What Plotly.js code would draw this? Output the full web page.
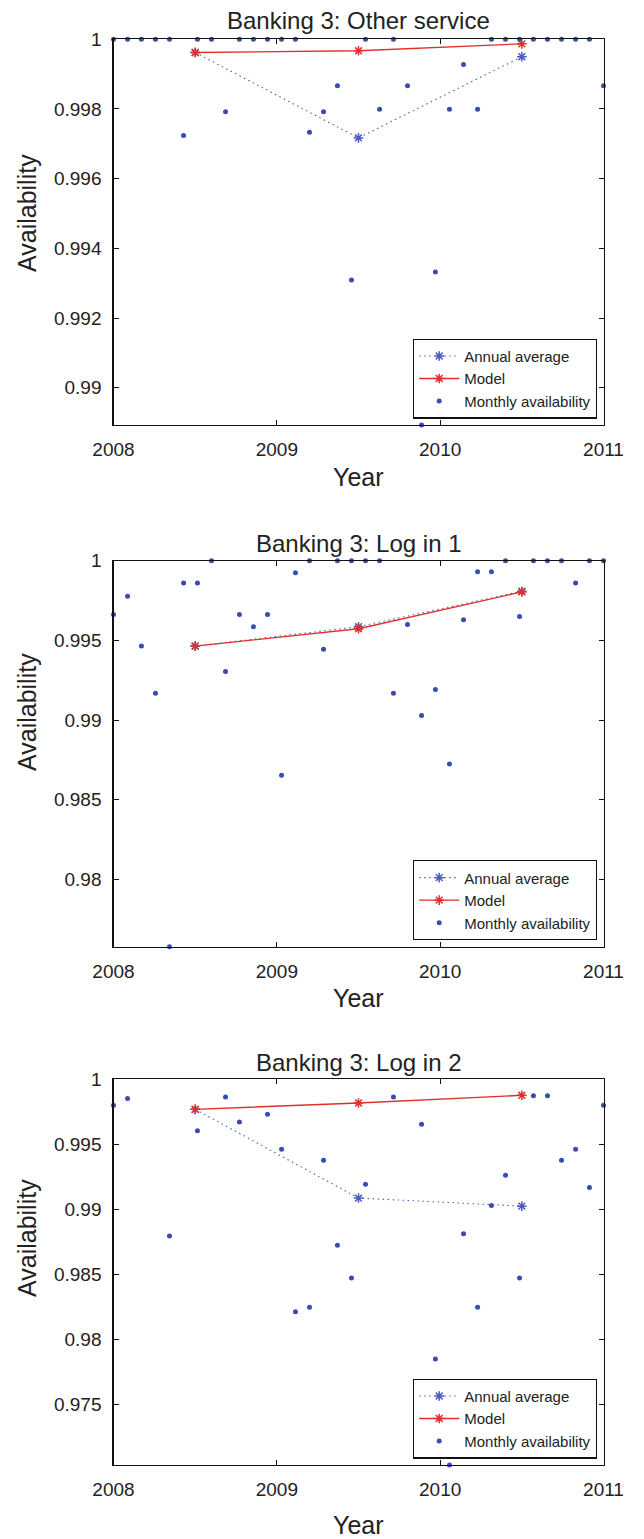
<!DOCTYPE html>
<html><head><meta charset="utf-8">
<script src="https://cdn.plot.ly/plotly-3.0.1.min.js"></script>
<style>html,body{margin:0;padding:0;background:#fff}#chart{width:644px;height:1539px}</style>
</head><body><div id="chart"></div>
<script>
// ---- data ----
const monthYears = [2008.000,2008.086,2008.171,2008.257,2008.343,2008.429,2008.514,2008.600,2008.686,2008.771,2008.857,2008.943,
  2009.029,2009.114,2009.200,2009.286,2009.371,2009.457,2009.543,2009.629,2009.714,2009.800,2009.886,2009.971,
  2010.057,2010.143,2010.229,2010.314,2010.400,2010.486,2010.571,2010.657,2010.743,2010.829,2010.914,2011.000];
const annualYears = [2008.5, 2009.5, 2010.5];

const panelTitles = ["Banking 3: Other service", "Banking 3: Log in 1", "Banking 3: Log in 2"];
const seriesNames = ["Annual average", "Model", "Monthly availability"];
const xTickVals = [2008, 2009, 2010, 2011];
const xTickText = ["2008", "2009", "2010", "2011"];

// Panel 1: Other service
const monthly1 = [1,1,1,1,1,0.99724,1,1,0.99792,1,1,1,
  1,1,0.99733,0.99792,0.99867,0.99309,1,0.99799,1,0.99867,0.98893,0.99332,
  0.99799,0.99928,0.99799,1,1,1,1,1,1,1,1,0.99867];
const annual1 = [0.99962, 0.99717, 0.99950];
const model1 = [0.99962, 0.99967, 0.99987];
const yTicks1 = [0.99, 0.992, 0.994, 0.996, 0.998, 1];
const yTickText1 = ["0.99", "0.992", "0.994", "0.996", "0.998", "1"];
const yRange1 = [0.98893, 1];

// Panel 2: Log in 1
const monthly2 = [0.99663,0.99777,0.99464,0.99169,0.97578,0.99860,0.99860,1,0.99304,0.99663,0.99586,0.99663,
  0.98654,0.99925,1,0.99444,1,1,1,1,0.99169,0.99600,0.99029,0.99192,
  0.98725,0.99629,0.99931,0.99931,1,0.99650,1,1,1,0.99860,1,1];
const annual2 = [0.99464, 0.99586, 0.99808];
const model2 = [0.99464, 0.99573, 0.99804];
const yTicks2 = [0.98, 0.985, 0.99, 0.995, 1];
const yTickText2 = ["0.98", "0.985", "0.99", "0.995", "1"];
const yRange2 = [0.97578, 1];

// Panel 3: Log in 2 (months with no visible mark are left empty)
const monthly3 = [0.99800,0.99852,null,null,0.98796,null,0.99604,null,0.99863,0.99671,null,0.99732,
  0.99463,0.98214,0.98248,0.99378,0.98725,0.98473,0.99194,null,0.99863,null,0.99655,0.97850,
  0.97035,0.98812,0.98248,0.99029,0.99263,0.98473,0.99873,0.99873,0.99378,0.99463,0.99168,0.99800];
const annual3 = [0.99769, 0.99087, 0.99025];
const model3 = [0.99769, 0.99818, 0.99877];
const yTicks3 = [0.975, 0.98, 0.985, 0.99, 0.995, 1];
const yTickText3 = ["0.975", "0.98", "0.985", "0.99", "0.995", "1"];
const yRange3 = [0.97035, 1];

// ---- styling / layout ----
const W = 644, H = 1539;
const FONT = "Liberation Sans, Arial, Helvetica, sans-serif";
const BLUE = "#3a4cb0", AVG = "#4a5cc4", RED = "#e0302a";
const px = v => v / W, py = v => 1 - v / H;
const plotLeft = 113.5, plotRight = 603.5;
const panels = [
  {top: 39.3, bottom: 425, monthly: monthly1, annual: annual1, model: model1, ticks: yTicks1, tickText: yTickText1, range: yRange1, titleY: 21, yearY: 477, availY: 213},
  {top: 560.7, bottom: 946.7, monthly: monthly2, annual: annual2, model: model2, ticks: yTicks2, tickText: yTickText2, range: yRange2, titleY: 543, yearY: 998, availY: 712},
  {top: 1079.3, bottom: 1465, monthly: monthly3, annual: annual3, model: model3, ticks: yTicks3, tickText: yTickText3, range: yRange3, titleY: 1062, yearY: 1525, availY: 1238}
];

const traces = [];
const layout = {
  width: W, height: H, paper_bgcolor: "#fff", plot_bgcolor: "#fff",
  margin: {l: 0, r: 0, t: 0, b: 0}, showlegend: true,
  font: {family: FONT, color: "#222"}, annotations: []
};

panels.forEach((p, i) => {
  const n = i + 1, sfx = n === 1 ? "" : String(n);
  const xa = "x" + sfx, ya = "y" + sfx, lg = "legend" + sfx;
  traces.push({x: annualYears, y: p.annual, name: seriesNames[0], mode: "lines+markers", xaxis: xa, yaxis: ya, legend: lg,
    cliponaxis: false, line: {color: AVG, width: 1.1, dash: "1.5px,3.5px"},
    marker: {symbol: "asterisk-open", size: 8, color: AVG, line: {color: AVG, width: 1.5}}});
  traces.push({x: annualYears, y: p.model, name: seriesNames[1], mode: "lines+markers", xaxis: xa, yaxis: ya, legend: lg,
    cliponaxis: false, line: {color: RED, width: 1.4},
    marker: {symbol: "asterisk-open", size: 8, color: RED, line: {color: RED, width: 1.5}}});
  traces.push({x: monthYears, y: p.monthly, name: seriesNames[2], mode: "markers", xaxis: xa, yaxis: ya, legend: lg,
    cliponaxis: false, marker: {symbol: "circle", size: 5, color: BLUE}});

  const axCommon = {showline: true, linecolor: "#111", linewidth: 1.2, mirror: "ticks", ticks: "inside", ticklen: 5,
    tickcolor: "#111", tickwidth: 1, showgrid: false, zeroline: false, automargin: false,
    tickfont: {size: 19, family: FONT, color: "#222"}};
  layout["xaxis" + sfx] = Object.assign({}, axCommon, {domain: [px(plotLeft), px(plotRight)], anchor: ya,
    range: [2008, 2011], tickmode: "array", tickvals: xTickVals, ticktext: xTickText, ticklabelstandoff: 7});
  layout["yaxis" + sfx] = Object.assign({}, axCommon, {domain: [py(p.bottom), py(p.top)], anchor: xa,
    range: p.range, tickmode: "array", tickvals: p.ticks, ticktext: p.tickText, ticklabelstandoff: 7});
  layout[lg] = {x: px(597), y: py(p.bottom - 6.5), xanchor: "right", yanchor: "bottom", xref: "paper", yref: "paper",
    bgcolor: "#fff", bordercolor: "#111", borderwidth: 1.2, font: {size: 15, family: FONT, color: "#222"},
    tracegroupgap: 0, itemwidth: 40};

  layout.annotations.push({text: panelTitles[i], xref: "paper", yref: "paper", x: px((plotLeft + plotRight) / 2), y: py(p.titleY),
    xanchor: "center", yanchor: "middle", showarrow: false, font: {size: 24, family: FONT, color: "#222"}});
  layout.annotations.push({text: "Year", xref: "paper", yref: "paper", x: px((plotLeft + plotRight) / 2), y: py(p.yearY),
    xanchor: "center", yanchor: "middle", showarrow: false, font: {size: 25, family: FONT, color: "#222"}});
  layout.annotations.push({text: "Availability", xref: "paper", yref: "paper", x: px(27), y: py(p.availY),
    xanchor: "center", yanchor: "middle", textangle: -90, showarrow: false, font: {size: 25, family: FONT, color: "#222"}});
});

Plotly.newPlot("chart", traces, layout, {staticPlot: true, displayModeBar: false});
</script>
</body></html>
